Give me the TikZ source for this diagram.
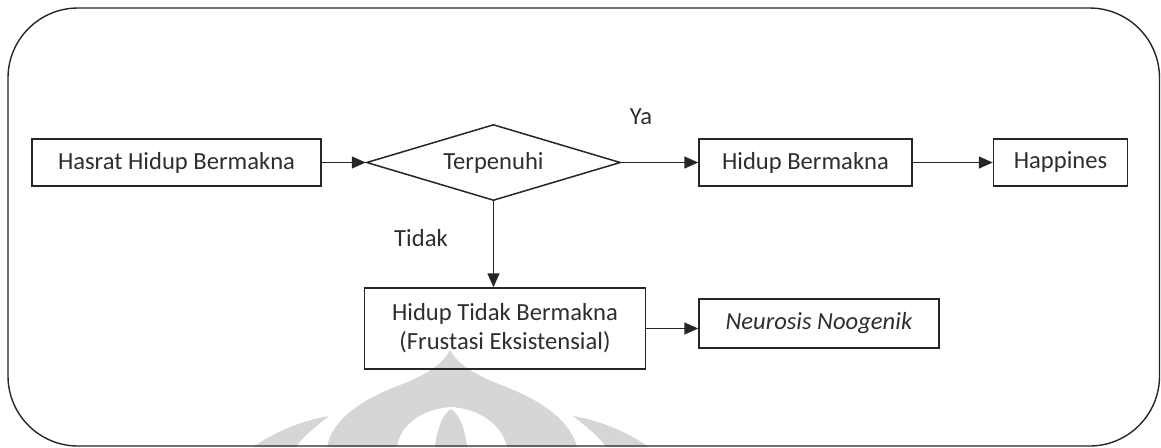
\documentclass[tikz,border=0pt]{standalone}
\usepackage{fontspec}
\setmainfont{Carlito}
\usetikzlibrary{positioning,shapes.geometric,arrows.meta}

\tikzset{
  kotak/.style={draw=black!85, line width=0.75pt, text=black!82, inner sep=0pt, minimum height=23.5pt},
  pilihan/.style={diamond, draw=black!85, line width=0.75pt, text=black!82, aspect=3.3, inner sep=0pt,
    minimum width=127pt, minimum height=38pt},
  panah/.style={draw=black!85, line width=0.75pt, -{Triangle[length=7pt,width=6pt]}},
  teks/.style={text=black!82},
  logo/.style={fill=black!16}
}

\begin{document}
\begin{tikzpicture}[x=0.5pt,y=-0.5pt,font=\fontsize{12.3}{14.5}\selectfont]
  \useasboundingbox (0,0) rectangle (1161,447);
  % logo samar di belakang
  \fill[logo] (327,447) .. controls (332,420) and (360,400) .. (400,385)
    .. controls (425,375) and (443,365) .. (450,350)
    .. controls (458,365) and (476,375) .. (501,385)
    .. controls (541,400) and (570,420) .. (577,447) -- cycle;
  \fill[white] (397,447) .. controls (400,425) and (422,409) .. (451,407)
    .. controls (480,409) and (502,425) .. (507,447) -- cycle;
  \fill[logo] (435,447) .. controls (437,428) and (443,414) .. (451,409)
    .. controls (459,414) and (465,428) .. (467,447) -- cycle;
  \fill[logo] (253,447) .. controls (275,432) and (300,421) .. (329,416)
    .. controls (318,425) and (302,437) .. (296,447) -- cycle;
  \fill[logo] (649,447) .. controls (627,432) and (602,421) .. (573,416)
    .. controls (584,425) and (600,437) .. (606,447) -- cycle;
  % bingkai
  \draw[black!85, line width=0.7pt, rounded corners=35pt] (8,8) rectangle (1159.5,446);

  \node [kotak, minimum width=144.5pt] (hasrat) at (176.5,162.5) {Hasrat Hidup Bermakna};
  \node [pilihan] (cek) [right=22pt of hasrat] {Terpenuhi};
  \node [kotak, minimum width=106.5pt] (bermakna) [right=38.5pt of cek] {Hidup Bermakna};
  \node [kotak, minimum width=67pt] (happy) [right=40pt of bermakna] {Happines};
  \node [kotak, minimum width=140.5pt, minimum height=40.5pt, align=center]
    (tidakbermakna) [below=43pt of cek, xshift=5.75pt] {Hidup Tidak Bermakna\\(Frustasi Eksistensial)};
  \node [kotak, minimum width=120pt, minimum height=24.5pt]
    (neurosis) [right=26pt of tidakbermakna, yshift=2.5pt] {\textit{Neurosis Noogenik}};

  \node [teks] (ya) at (641,117) {Ya};
  \node [teks] (tidak) at (421,238) {Tidak};

  \draw[panah] (hasrat) -- (cek);
  \draw[panah] (cek) -- (bermakna);
  \draw[panah] (bermakna) -- (happy);
  \draw[panah] (cek.south) -- (cek.south |- tidakbermakna.north);
  \draw[panah] (tidakbermakna.east) -- (tidakbermakna.east -| neurosis.west);
\end{tikzpicture}
\end{document}
